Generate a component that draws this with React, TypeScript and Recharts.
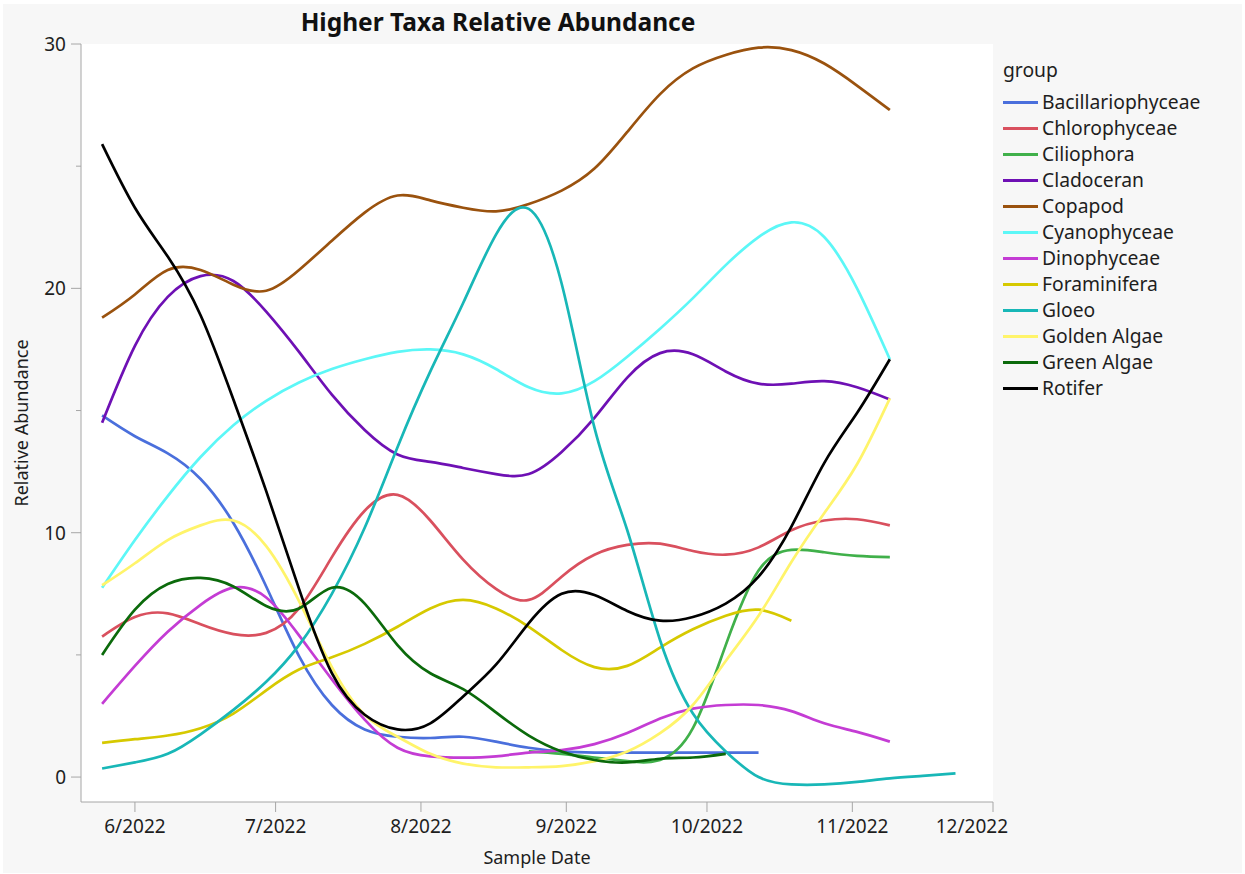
import { CartesianGrid, Line, LineChart, XAxis, YAxis } from "recharts";

// sample days, counted from 1 June 2022
const days = [
  -7, 0, 7, 14, 21, 28, 35, 42, 49, 56, 63, 70, 77, 84, 91, 98, 105, 112, 119,
  126, 133, 140, 147, 154, 161, 168, 175,
];

const monthTicks = [0, 30, 61, 92, 122, 153, 183];
const monthLabels = ["6/2022", "7/2022", "8/2022", "9/2022", "10/2022", "11/2022", "12/2022"];
const yTicks = [0, 5, 10, 15, 20, 25, 30];

const bacillariophyceae = [
  14.8, 13.95, 13.25, 12.2, 10.4, 7.8, 4.95, 2.95, 1.95, 1.65, 1.6, 1.65, 1.45,
  1.2, 1.05, 1.0, 1.0, 1.0, 1.0, 1.0, 1.0,
];
const chlorophyceae = [
  5.75, 6.55, 6.7, 6.25, 5.85, 5.9, 6.9, 9.0, 10.9, 11.55, 10.5, 8.9, 7.7, 7.25,
  8.2, 9.1, 9.5, 9.55, 9.25, 9.1, 9.4, 10.1, 10.5, 10.55, 10.3,
];
const ciliophora = [
  null, null, null, null, null, null, null, null, null, null, null, null, null,
  1.05, 0.95, 0.8, 0.65, 0.7, 2.0, 5.4, 8.45, 9.3, 9.2, 9.05, 9.0,
];
const cladoceran = [
  14.5, 17.65, 19.65, 20.5, 20.3, 19.05, 17.4, 15.65, 14.2, 13.2, 12.9, 12.65,
  12.4, 12.4, 13.3, 14.7, 16.35, 17.35, 17.3, 16.6, 16.1, 16.1, 16.2, 15.95, 15.45,
];
const copapod = [
  18.8, 19.75, 20.75, 20.75, 20.15, 19.9, 20.75, 21.95, 23.1, 23.8, 23.6, 23.3,
  23.15, 23.45, 24.0, 24.9, 26.4, 27.95, 29.0, 29.55, 29.85, 29.75, 29.2, 28.3, 27.3,
];
const cyanophyceae = [
  7.75, 9.7, 11.5, 13.1, 14.4, 15.4, 16.15, 16.7, 17.1, 17.4, 17.5, 17.3, 16.7,
  15.95, 15.7, 16.2, 17.2, 18.35, 19.6, 20.95, 22.1, 22.7, 22.1, 20.0, 17.1,
];
const dinophyceae = [
  3.0, 4.55, 5.95, 7.05, 7.75, 7.35, 5.8, 4.0, 2.35, 1.2, 0.85, 0.8, 0.85, 1.0,
  1.1, 1.35, 1.8, 2.4, 2.8, 2.95, 2.95, 2.7, 2.2, 1.85, 1.45,
];
const foraminifera = [
  1.4, 1.55, 1.7, 2.0, 2.6, 3.55, 4.4, 4.9, 5.45, 6.15, 6.9, 7.25, 6.9, 6.15,
  5.2, 4.5, 4.55, 5.3, 6.05, 6.6, 6.85, 6.4,
];
const gloeo = [
  0.35, 0.6, 0.95, 1.75, 2.75, 3.9, 5.4, 7.5, 10.2, 13.5, 16.6, 19.4, 22.2,
  23.25, 20.2, 14.3, 10.1, 5.6, 2.6, 1.05, 0.0, -0.3, -0.3, -0.2, -0.05, 0.05, 0.15,
];
const goldenAlgae = [
  7.85, 8.75, 9.7, 10.3, 10.5, 9.45, 7.2, 4.5, 2.55, 1.65, 0.95, 0.55, 0.4, 0.4,
  0.45, 0.65, 1.05, 1.8, 2.95, 4.75, 6.6, 8.8, 10.8, 12.8, 15.5,
];
const greenAlgae = [
  5.0, 6.85, 7.9, 8.15, 7.8, 7.0, 6.9, 7.75, 7.1, 5.4, 4.25, 3.6, 2.65, 1.7,
  1.05, 0.7, 0.6, 0.75, 0.8, 0.95,
];
const rotifer = [
  25.9, 23.3, 21.3, 18.9, 15.45, 11.7, 7.7, 4.25, 2.55, 1.95, 2.2, 3.3, 4.6, 6.3,
  7.5, 7.45, 6.8, 6.4, 6.55, 7.1, 8.2, 10.25, 12.85, 14.9, 17.1,
];

const groups = [
  { name: "Bacillariophyceae", color: "#4a6fdc", values: bacillariophyceae },
  { name: "Chlorophyceae", color: "#d9505e", values: chlorophyceae },
  { name: "Ciliophora", color: "#40b04a", values: ciliophora },
  { name: "Cladoceran", color: "#6e10b4", values: cladoceran },
  { name: "Copapod", color: "#9a520e", values: copapod },
  { name: "Cyanophyceae", color: "#5cf7f7", values: cyanophyceae },
  { name: "Dinophyceae", color: "#c43cd4", values: dinophyceae },
  { name: "Foraminifera", color: "#d6c900", values: foraminifera },
  { name: "Gloeo", color: "#18b7b7", values: gloeo },
  { name: "Golden Algae", color: "#fff46a", values: goldenAlgae },
  { name: "Green Algae", color: "#0b6a0b", values: greenAlgae },
  { name: "Rotifer", color: "#000000", values: rotifer },
];

const rows = days.map((day, i) => {
  const row: Record<string, number | null> = { day };
  groups.forEach((g) => {
    row[g.name] = g.values[i] ?? null;
  });
  return row;
});

const FONT = "'Noto Sans', 'Open Sans', sans-serif";
const TEXT = "#1e1e1e";
const FRAME = "#a6a6a6";
const W = 1245;
const H = 874;
const PLOT_LEFT = 81;
const PLOT_RIGHT = 993;
const PLOT_TOP = 44;
const PLOT_BOTTOM = 802;
const X_DOMAIN: [number, number] = [-11.5, 183];
const Y_DOMAIN: [number, number] = [-1.02, 30];

function YTick(props: any) {
  const { y, payload } = props;
  const major = payload.value % 10 === 0;
  return (
    <g>
      <line
        x1={PLOT_LEFT - (major ? 10 : 5)}
        x2={PLOT_LEFT}
        y1={y}
        y2={y}
        stroke={FRAME}
        strokeWidth={1}
      />
      {major && (
        <text
          x={PLOT_LEFT - 15}
          y={y}
          dy="0.36em"
          textAnchor="end"
          fill={TEXT}
          fontSize={19}
          fontFamily={FONT}
        >
          {payload.value}
        </text>
      )}
    </g>
  );
}

// month labels; the last one is pulled back inside the frame edge
function XTick(props: any) {
  const { x, y, payload } = props;
  const last = payload.value === monthTicks[monthTicks.length - 1];
  return (
    <text
      x={last ? x + 15 : x}
      y={y}
      dy="0.71em"
      textAnchor={last ? "end" : "middle"}
      fill={TEXT}
      fontSize={19}
      fontFamily={FONT}
    >
      {monthLabels[monthTicks.indexOf(payload.value)]}
    </text>
  );
}

function GroupLegend() {
  return (
    <div
      style={{
        position: "absolute",
        left: 1003,
        top: 57,
        fontFamily: FONT,
        fontSize: 19.3,
        color: TEXT,
      }}
    >
      <div style={{ height: 26, lineHeight: "26px" }}>group</div>
      <div style={{ height: 6 }} />
      {groups.map((g) => (
        <div
          key={g.name}
          style={{ display: "flex", alignItems: "center", height: 26, lineHeight: "26px" }}
        >
          <span
            style={{
              display: "inline-block",
              width: 35,
              height: 3,
              background: g.color,
              marginRight: 4,
            }}
          />
          <span>{g.name}</span>
        </div>
      ))}
    </div>
  );
}

export default function App() {
  return (
    <div
      style={{
        position: "absolute",
        left: 0,
        top: 0,
        width: W,
        height: H,
        background: "#ffffff",
        overflow: "hidden",
      }}
    >
      <div
        style={{
          position: "absolute",
          left: 3,
          top: 4,
          width: W - 6,
          height: H - 5,
          background: "#f7f7f7",
        }}
      />
      <div
        style={{
          position: "absolute",
          left: 0,
          top: 7,
          width: 996,
          textAlign: "center",
          fontFamily: FONT,
          fontWeight: 700,
          fontSize: 24.5,
          color: "#111",
          lineHeight: "30px",
        }}
      >
        Higher Taxa Relative Abundance
      </div>
      <div style={{ position: "absolute", left: 0, top: 0 }}>
        <LineChart
          width={W}
          height={H}
          data={rows}
          margin={{ top: PLOT_TOP, right: W - PLOT_RIGHT, bottom: 0, left: 0 }}
        >
          <CartesianGrid horizontal={false} vertical={false} fill="#ffffff" />
          <XAxis
            dataKey="day"
            type="number"
            domain={X_DOMAIN}
            ticks={monthTicks}
            allowDataOverflow
            height={H - PLOT_BOTTOM}
            tickSize={10}
            tickMargin={8}
            stroke={FRAME}
            tick={<XTick />}
            label={{
              value: "Sample Date",
              position: "insideBottom",
              offset: 10,
              fill: TEXT,
              fontSize: 18,
              fontFamily: FONT,
            }}
          />
          <XAxis
            xAxisId="top"
            orientation="top"
            type="number"
            domain={X_DOMAIN}
            height={0}
            tick={false}
            tickLine={false}
            stroke={FRAME}
          />
          <YAxis
            type="number"
            domain={Y_DOMAIN}
            ticks={yTicks}
            allowDataOverflow
            width={PLOT_LEFT}
            tickLine={false}
            stroke={FRAME}
            tick={<YTick />}
            label={{
              value: "Relative Abundance",
              angle: -90,
              position: "insideLeft",
              offset: 22,
              fill: TEXT,
              fontSize: 18,
              fontFamily: FONT,
              style: { textAnchor: "middle" },
            }}
          />
          <YAxis
            yAxisId="right"
            orientation="right"
            type="number"
            domain={Y_DOMAIN}
            width={0}
            tick={false}
            tickLine={false}
            stroke={FRAME}
          />
          {groups.map((g) => (
            <Line
              key={g.name}
              type="natural"
              dataKey={g.name}
              name={g.name}
              stroke={g.color}
              strokeWidth={2.7}
              dot={false}
              activeDot={false}
              isAnimationActive={false}
            />
          ))}
        </LineChart>
      </div>
      <GroupLegend />
    </div>
  );
}
